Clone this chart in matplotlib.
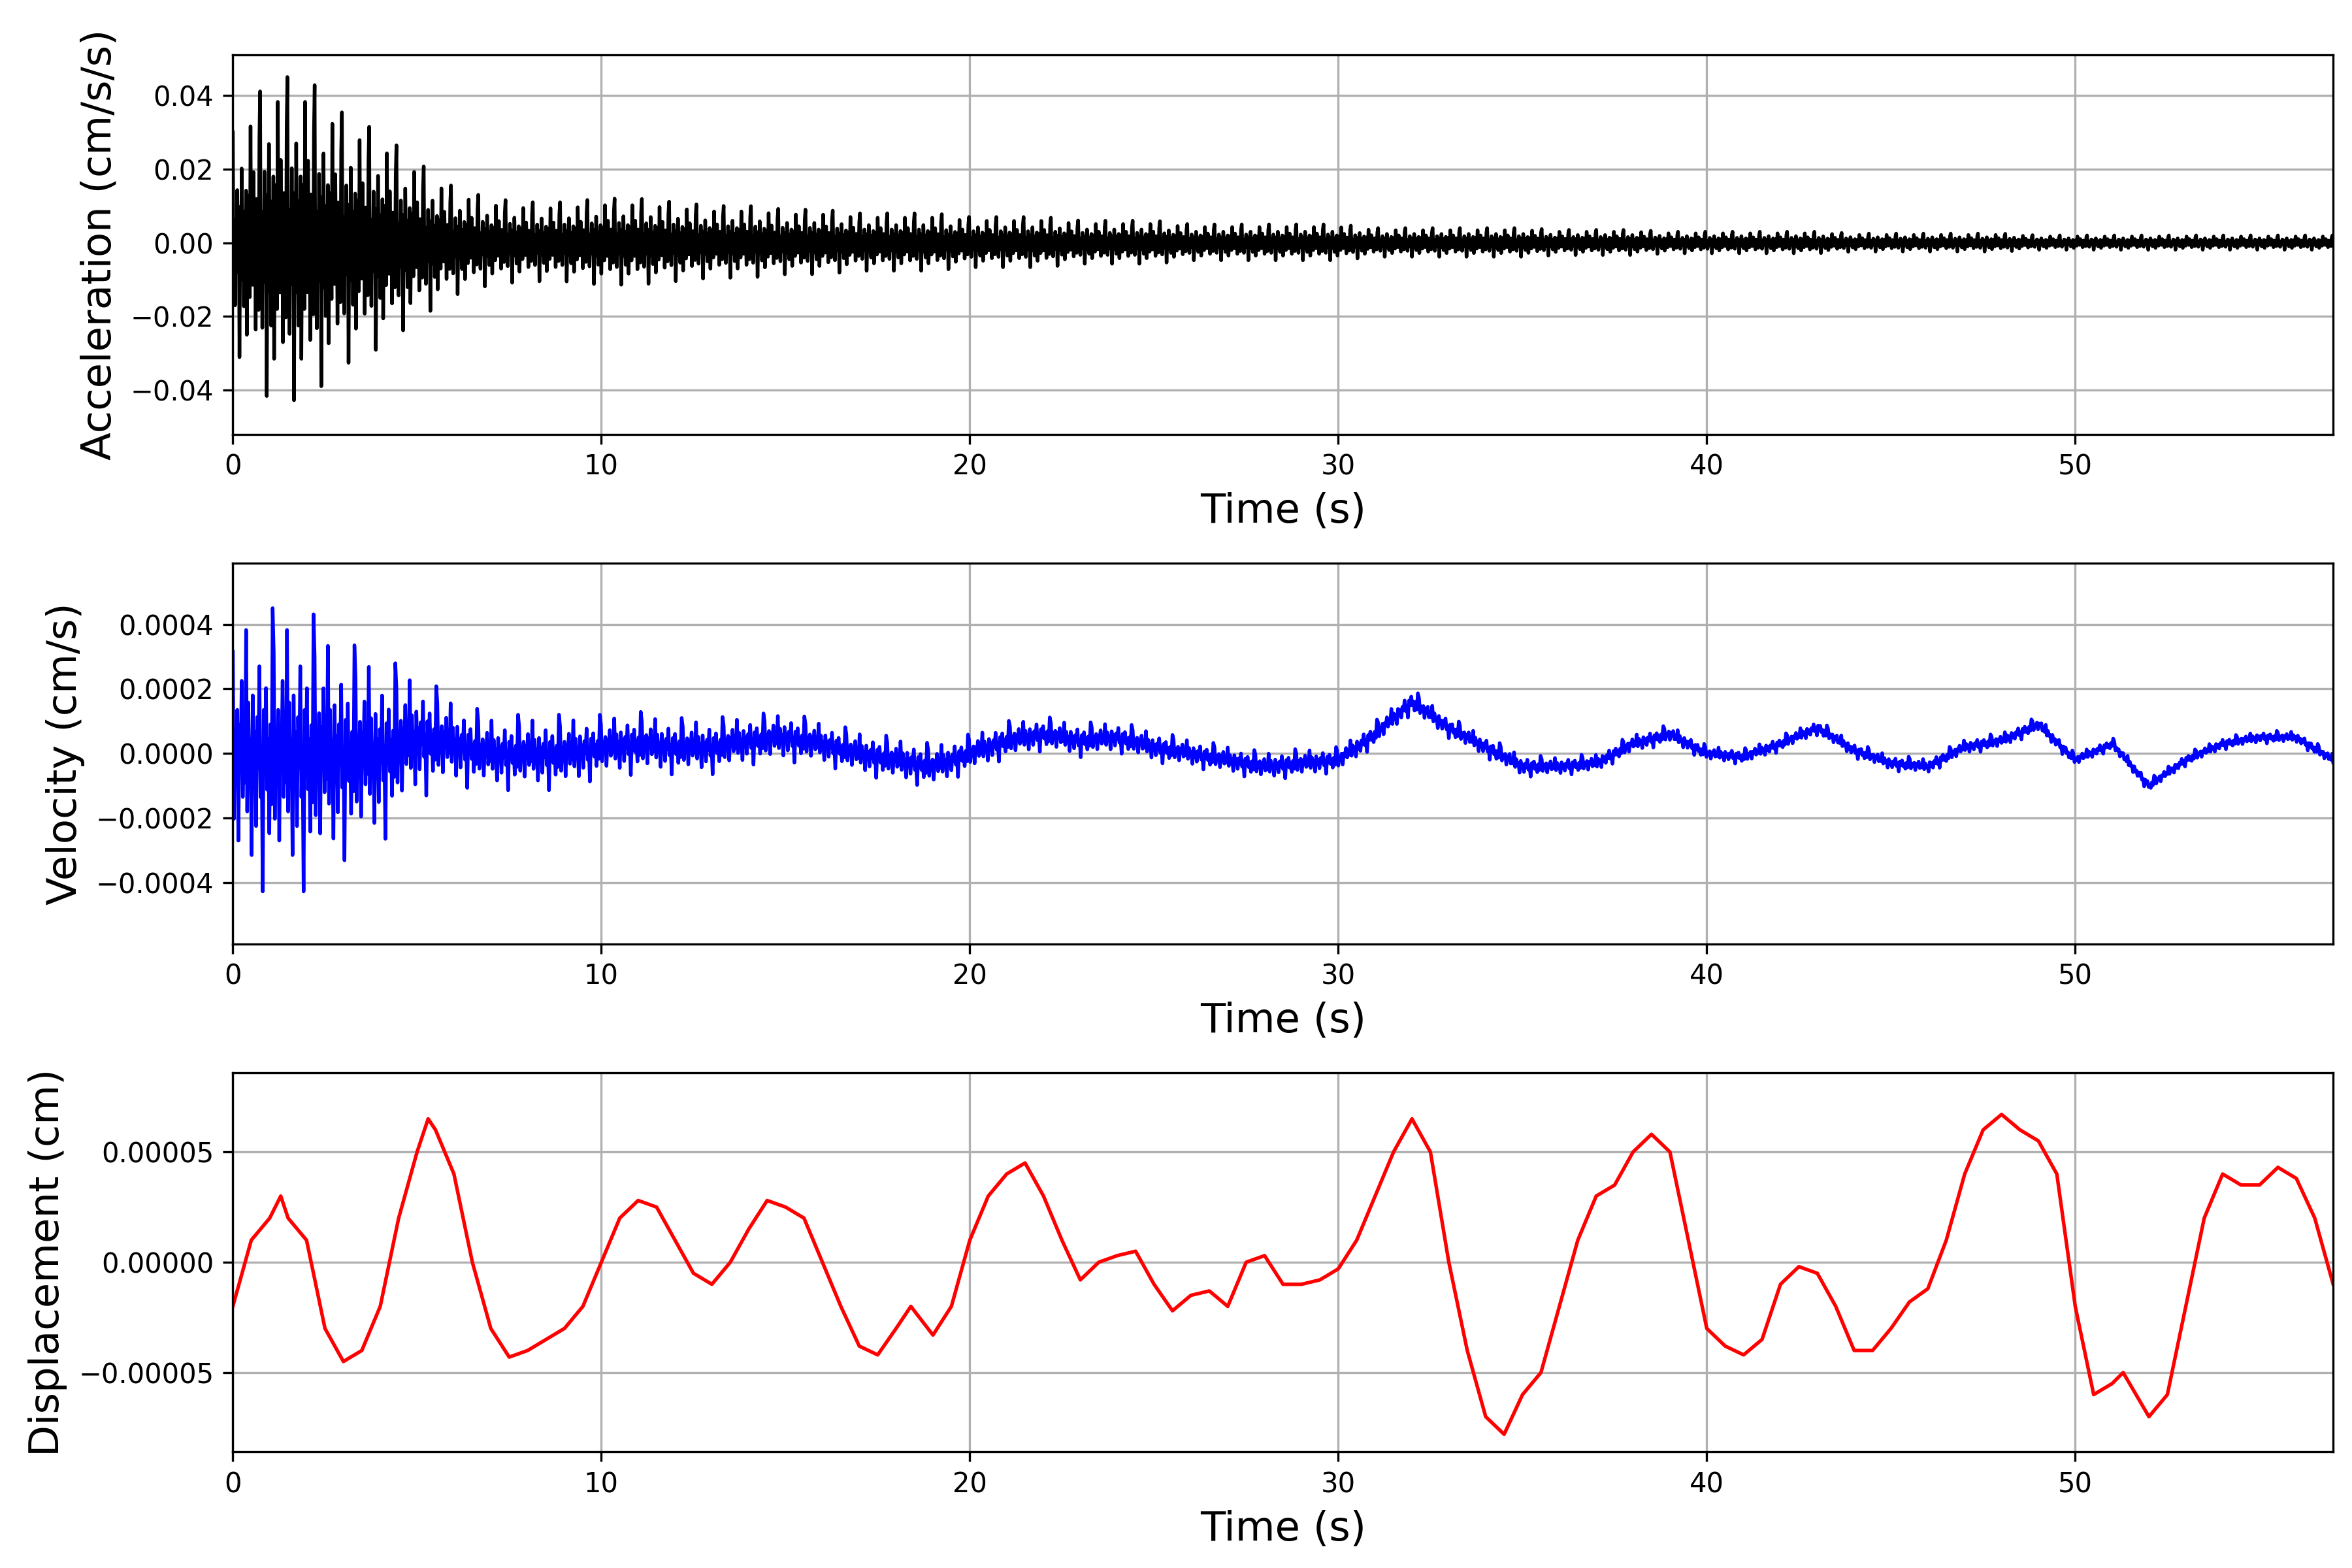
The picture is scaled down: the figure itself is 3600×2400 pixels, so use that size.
import numpy as np
import matplotlib
matplotlib.use("Agg")
import matplotlib.pyplot as plt
from matplotlib.ticker import FuncFormatter

# ---- values ----
# displacement (cm) at read-off times (s)
disp_t = [0, .5, 1, 1.3, 1.5, 2, 2.5, 3, 3.5, 4, 4.5, 5, 5.3, 5.5, 6, 6.5, 7, 7.5, 8, 8.5,
          9, 9.5, 10, 10.5, 11, 11.5, 12, 12.5, 13, 13.5, 14, 14.5, 15, 15.5, 16, 16.5,
          17, 17.5, 18, 18.4, 19, 19.5, 20, 20.5, 21, 21.5, 22, 22.5, 23, 23.5, 24, 24.5,
          25, 25.5, 26, 26.5, 27, 27.5, 28, 28.5, 29, 29.5, 30, 30.5, 31, 31.5, 32, 32.5,
          33, 33.5, 34, 34.5, 35, 35.5, 36, 36.5, 37, 37.5, 38, 38.5, 39, 39.5, 40, 40.5,
          41, 41.5, 42, 42.5, 43, 43.5, 44, 44.5, 45, 45.5, 46, 46.5, 47, 47.5, 48, 48.5,
          49, 49.5, 50, 50.5, 51, 51.3, 52, 52.5, 53, 53.5, 54, 54.5, 55, 55.5, 56, 56.5, 57]
disp_v = [-2e-5, 1e-5, 2e-5, 3e-5, 2e-5, 1e-5, -3e-5, -4.5e-5, -4e-5, -2e-5, 2e-5, 5e-5,
          6.5e-5, 6e-5, 4e-5, 0, -3e-5, -4.3e-5, -4e-5, -3.5e-5, -3e-5, -2e-5, 0, 2e-5,
          2.8e-5, 2.5e-5, 1e-5, -.5e-5, -1e-5, 0, 1.5e-5, 2.8e-5, 2.5e-5, 2e-5, 0, -2e-5,
          -3.8e-5, -4.2e-5, -3e-5, -2e-5, -3.3e-5, -2e-5, 1e-5, 3e-5, 4e-5, 4.5e-5, 3e-5,
          1e-5, -.8e-5, 0, .3e-5, .5e-5, -1e-5, -2.2e-5, -1.5e-5, -1.3e-5, -2e-5, 0, .3e-5,
          -1e-5, -1e-5, -.8e-5, -.3e-5, 1e-5, 3e-5, 5e-5, 6.5e-5, 5e-5, 0, -4e-5, -7e-5,
          -7.8e-5, -6e-5, -5e-5, -2e-5, 1e-5, 3e-5, 3.5e-5, 5e-5, 5.8e-5, 5e-5, 1e-5,
          -3e-5, -3.8e-5, -4.2e-5, -3.5e-5, -1e-5, -.2e-5, -.5e-5, -2e-5, -4e-5, -4e-5,
          -3e-5, -1.8e-5, -1.2e-5, 1e-5, 4e-5, 6e-5, 6.7e-5, 6e-5, 5.5e-5, 4e-5, -2e-5,
          -6e-5, -5.5e-5, -5e-5, -7e-5, -6e-5, -2e-5, 2e-5, 4e-5, 3.5e-5, 3.5e-5, 4.3e-5,
          3.8e-5, 2e-5, -1e-5]

# velocity (cm/s): slow trend and noise envelope at 1 s steps, 0..57
vel_trend = [0, 0, 0, 0, 0, 0.5e-4, 0.3e-4, 0, 0, 0, 0.2e-4, 0.3e-4, 0.2e-4, 0.2e-4, 0.4e-4,
             0.5e-4, 0.3e-4, 0, -0.2e-4, -0.4e-4, 0, 0.4e-4, 0.6e-4, 0.4e-4, 0.5e-4, 0.2e-4,
             0, -0.2e-4, -0.4e-4, -0.3e-4, -0.2e-4, 0.6e-4, 1.6e-4, 0.8e-4, 0.2e-4, -0.4e-4,
             -0.4e-4, -0.3e-4, 0.3e-4, 0.6e-4, 0, -0.1e-4, 0.3e-4, 0.8e-4, 0.1e-4, -0.3e-4,
             -0.4e-4, 0.2e-4, 0.4e-4, 0.9e-4, -0.2e-4, 0.3e-4, -1.0e-4, -0.2e-4, 0.3e-4,
             0.5e-4, 0.5e-4, -0.2e-4]
vel_amp = [4.5e-4, 4.5e-4, 4.5e-4, 3.5e-4, 3e-4, 2e-4, 1.4e-4, 1.2e-4, 1.2e-4, 1.2e-4, 1e-4,
           1e-4, 9e-5, 9e-5, 8e-5, 8e-5, 7e-5, 7e-5, 7e-5, 7e-5, 6e-5, 6e-5, 5.5e-5, 5.5e-5,
           5e-5, 5e-5, 4.5e-5, 4.5e-5, 4.5e-5, 4.5e-5, 4e-5, 4e-5, 4e-5, 3.5e-5, 3.5e-5, 3.5e-5,
           3e-5, 3e-5, 3e-5, 3e-5, 2.5e-5, 2.5e-5, 2.5e-5, 2.5e-5, 2.5e-5, 2.5e-5, 2.5e-5,
           2.5e-5, 2.5e-5, 2.5e-5, 2e-5, 2e-5, 2e-5, 2e-5, 2e-5, 2e-5, 2e-5, 2e-5]

# acceleration (cm/s/s) noise envelope at 1 s steps, 0..57
acc_amp = [0.03, 0.045, 0.045, 0.035, 0.03, 0.022, 0.015, 0.012, 0.011, 0.011, 0.012,
           0.012, 0.011, 0.01, 0.01, 0.009, 0.009, 0.008, 0.008, 0.008, 0.007, 0.007, 0.007,
           0.006, 0.006, 0.006, 0.005, 0.005, 0.005, 0.005, 0.005, 0.004, 0.004, 0.004,
           0.004, 0.004, 0.0035, 0.0035, 0.0035, 0.003, 0.003, 0.003, 0.003, 0.003, 0.0025,
           0.0025, 0.0025, 0.0025, 0.0025, 0.002, 0.002, 0.002, 0.002, 0.002, 0.002, 0.002,
           0.002, 0.002]

# fixed irregular wiggle pattern used to draw the noisy traces
wiggle = [1.0, -0.35, 0.2, -0.55, 0.1, -0.25, 0.45, -0.15, 0.3, -0.95, 0.05, -0.3, 0.6,
          -0.1, 0.25, -0.5, 0.15, -0.2, 0.4, -0.7, 0.1, -0.15, 0.35, -0.4, 0.85, -0.2,
          0.1, -0.3, 0.5, -0.05, 0.2, -0.6, 0.3, -0.1, 0.15, -0.45, 0.7]

sec = np.arange(58)
ta = np.arange(0, 57.01, 0.02)
acc = np.interp(ta, sec, acc_amp) * np.resize(wiggle, ta.size)
tv = np.arange(0, 57.01, 0.03)
vel = np.interp(tv, sec, vel_trend) + np.interp(tv, sec, vel_amp) * np.resize(wiggle[::-1], tv.size)
td = np.array(disp_t)
dd = np.array(disp_v)


def fmt(dec):
    return FuncFormatter(lambda v, p: f"{v:.{dec}f}".replace("-", "\u2212"))


fig = plt.figure(figsize=(12, 8), dpi=300)
boxes = [[0.099, 0.723, 0.893, 0.242], [0.099, 0.398, 0.893, 0.243], [0.099, 0.074, 0.893, 0.242]]
series = [(ta, acc, "k", "Acceleration (cm/s/s)", (-0.052, 0.051), 2),
          (tv, vel, "b", "Velocity (cm/s)", (-0.00059, 0.00059), 4),
          (td, dd, "r", "Displacement (cm)", (-8.6e-5, 8.6e-5), 5)]
for box, (x, y, c, lab, yl, dec) in zip(boxes, series):
    ax = fig.add_axes(box)
    ax.plot(x, y, color=c, lw=1.3)
    ax.set_xlim(0, 57)
    ax.set_ylim(*yl)
    if dec == 5:
        ax.set_yticks([-5e-5, 0, 5e-5])
    ax.yaxis.set_major_formatter(fmt(dec))
    ax.grid(True)
    ax.set_axisbelow(True)
    ax.set_xlabel("Time (s)", fontsize=15)
    ax.set_ylabel(lab, fontsize=15)
    ax.tick_params(labelsize=10)

fig.savefig("out.png", dpi=300)
